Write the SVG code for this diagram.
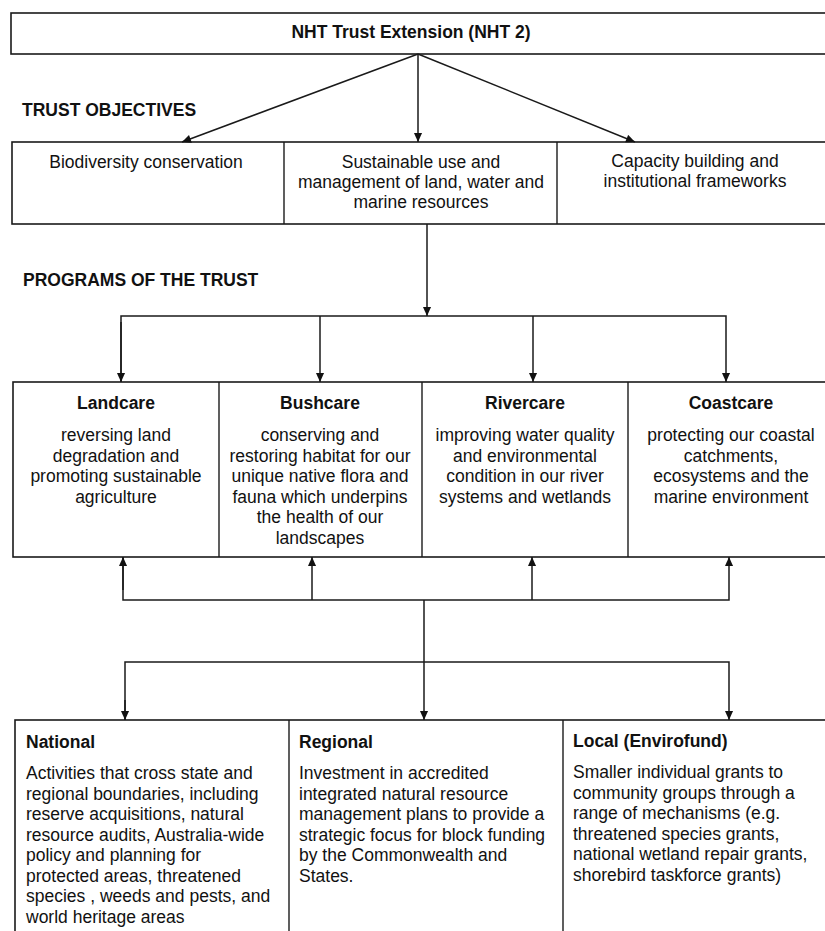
<svg xmlns="http://www.w3.org/2000/svg" width="825" height="931" viewBox="0 0 825 931">
<style>
.box{fill:#fff;stroke:#1a1a1a;stroke-width:1.6}
.div{stroke:#1a1a1a;stroke-width:1.4}
.conn{fill:none;stroke:#1a1a1a;stroke-width:1.5}
text{font-family:"Liberation Sans",Arial,sans-serif;fill:#111;font-size:17.5px}
.b{font-weight:bold}
.c{text-anchor:middle}
</style>
<defs>
<marker id="ah" viewBox="0 0 10 10" refX="10" refY="5" markerWidth="10" markerHeight="9" markerUnits="userSpaceOnUse" orient="auto">
<path d="M0,0.5 L10,5 L0,9.5 z" fill="#111"/>
</marker>
</defs>
<rect width="825" height="931" fill="#fff"/>

<g id="top">
<rect class="box" x="11" y="13" width="830" height="41"/>
<text class="b c" x="411" y="38" font-size="17.7">NHT Trust Extension (NHT 2)</text>
</g>

<text class="b" x="22" y="116">TRUST OBJECTIVES</text>
<text class="b" x="23" y="286">PROGRAMS OF THE TRUST</text>

<g id="objectives">
<rect class="box" x="12" y="142" width="830" height="82"/>
<g id="obj-biodiversity">
<line class="div" x1="284" y1="142" x2="284" y2="224"/>
<text class="c" x="146" y="168">Biodiversity conservation</text>
</g>
<g id="obj-sustainable">
<text class="c" x="421" y="168">Sustainable use and</text>
<text class="c" x="421" y="188">management of land, water and</text>
<text class="c" x="421" y="208">marine resources</text>
</g>
<g id="obj-capacity">
<line class="div" x1="557" y1="142" x2="557" y2="224"/>
<text class="c" x="695" y="167">Capacity building and</text>
<text class="c" x="695" y="187">institutional frameworks</text>
</g>
</g>

<g id="programs">
<rect class="box" x="13" y="382" width="830" height="175"/>
<line class="div" x1="219" y1="382" x2="219" y2="557"/>
<line class="div" x1="422" y1="382" x2="422" y2="557"/>
<line class="div" x1="628" y1="382" x2="628" y2="557"/>
<g id="landcare">
<text class="b c" x="116" y="409">Landcare</text>
<text class="c" x="116" y="441">reversing land</text>
<text class="c" x="116" y="461.5">degradation and</text>
<text class="c" x="116" y="482">promoting sustainable</text>
<text class="c" x="116" y="502.5">agriculture</text>
</g>
<g id="bushcare">
<text class="b c" x="320" y="409">Bushcare</text>
<text class="c" x="320" y="441">conserving and</text>
<text class="c" x="320" y="461.5">restoring habitat for our</text>
<text class="c" x="320" y="482">unique native flora and</text>
<text class="c" x="320" y="502.5">fauna which underpins</text>
<text class="c" x="320" y="523">the health of our</text>
<text class="c" x="320" y="543.5">landscapes</text>
</g>
<g id="rivercare">
<text class="b c" x="525" y="409">Rivercare</text>
<text class="c" x="525" y="441">improving water quality</text>
<text class="c" x="525" y="461.5">and environmental</text>
<text class="c" x="525" y="482">condition in our river</text>
<text class="c" x="525" y="502.5">systems and wetlands</text>
</g>
<g id="coastcare">
<text class="b c" x="731" y="409">Coastcare</text>
<text class="c" x="731" y="441">protecting our coastal</text>
<text class="c" x="731" y="461.5">catchments,</text>
<text class="c" x="731" y="482">ecosystems and the</text>
<text class="c" x="731" y="502.5">marine environment</text>
</g>
</g>

<g id="delivery">
<rect class="box" x="15" y="720" width="830" height="230"/>
<line class="div" x1="289" y1="720" x2="289" y2="940"/>
<line class="div" x1="563" y1="720" x2="563" y2="940"/>
<g id="national">
<text class="b" x="26" y="748">National</text>
<text x="26" y="779">Activities that cross state and</text>
<text x="26" y="799.5">regional boundaries, including</text>
<text x="26" y="820">reserve acquisitions, natural</text>
<text x="26" y="840.5">resource audits, Australia-wide</text>
<text x="26" y="861">policy and planning for</text>
<text x="26" y="881.5">protected areas, threatened</text>
<text x="26" y="902">species , weeds and pests, and</text>
<text x="26" y="922.5">world heritage areas</text>
</g>
<g id="regional">
<text class="b" x="299" y="748">Regional</text>
<text x="299" y="779">Investment in accredited</text>
<text x="299" y="799.5">integrated natural resource</text>
<text x="299" y="820">management plans to provide a</text>
<text x="299" y="840.5">strategic focus for block funding</text>
<text x="299" y="861">by the Commonwealth and</text>
<text x="299" y="881.5">States.</text>
</g>
<g id="local">
<text class="b" x="573" y="747">Local (Envirofund)</text>
<text x="573" y="778">Smaller individual grants to</text>
<text x="573" y="798.5">community groups through a</text>
<text x="573" y="819">range of mechanisms (e.g.</text>
<text x="573" y="839.5">threatened species grants,</text>
<text x="573" y="860">national wetland repair grants,</text>
<text x="573" y="880.5">shorebird taskforce grants)</text>
</g>
</g>

<g id="connectors">
<line class="conn" x1="418" y1="54" x2="182" y2="142" marker-end="url(#ah)"/>
<line class="conn" x1="418" y1="54" x2="418" y2="142" marker-end="url(#ah)"/>
<line class="conn" x1="418" y1="54" x2="635" y2="142" marker-end="url(#ah)"/>
<line class="conn" x1="427" y1="224" x2="427" y2="316" marker-end="url(#ah)"/>
<polyline class="conn" points="121,382 121,316 726,316 726,382" marker-end="url(#ah)"/>
<line class="conn" x1="121" y1="322" x2="121" y2="382" marker-end="url(#ah)"/>
<line class="conn" x1="320" y1="316" x2="320" y2="382" marker-end="url(#ah)"/>
<line class="conn" x1="533" y1="316" x2="533" y2="382" marker-end="url(#ah)"/>
<polyline class="conn" points="123,557 123,600 729,600 729,557" marker-end="url(#ah)"/>
<line class="conn" x1="123" y1="590" x2="123" y2="557" marker-end="url(#ah)"/>
<line class="conn" x1="312" y1="600" x2="312" y2="557" marker-end="url(#ah)"/>
<line class="conn" x1="532" y1="600" x2="532" y2="557" marker-end="url(#ah)"/>
<line class="conn" x1="424" y1="600" x2="424" y2="720" marker-end="url(#ah)"/>
<polyline class="conn" points="125,720 125,662 729,662 729,720" marker-end="url(#ah)"/>
<line class="conn" x1="125" y1="700" x2="125" y2="720" marker-end="url(#ah)"/>
</g>
</svg>
